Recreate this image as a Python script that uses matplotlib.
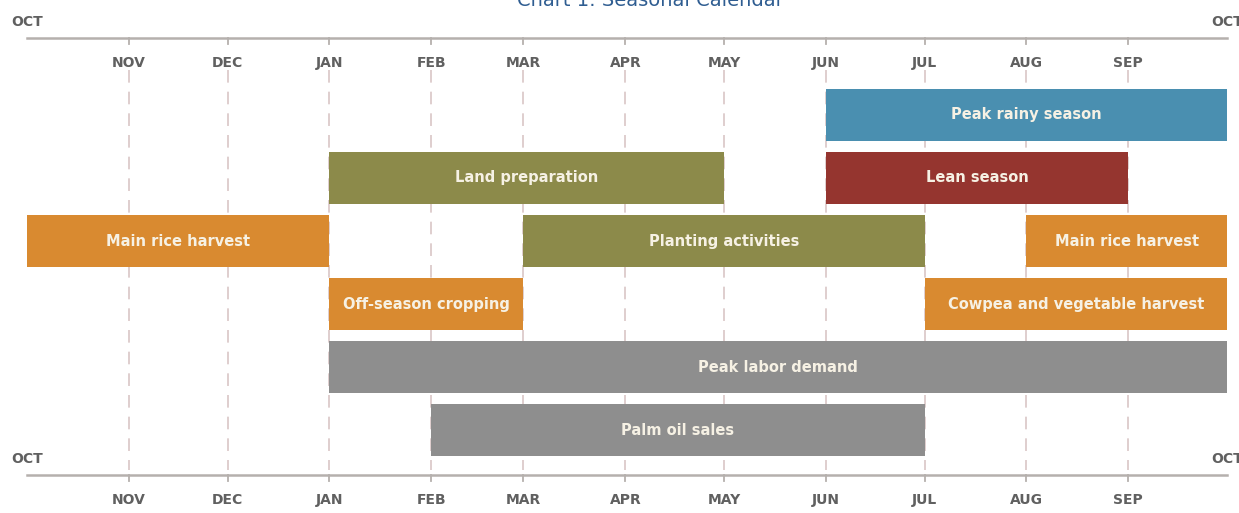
import numpy as np
import matplotlib.pyplot as plt

# month axis from OCT to OCT, spaced by the number of days in each month
months = ['OCT', 'NOV', 'DEC', 'JAN', 'FEB', 'MAR', 'APR', 'MAY',
          'JUN', 'JUL', 'AUG', 'SEP', 'OCT']
month_days = [31, 30, 31, 31, 28, 31, 30, 31, 30, 31, 31, 30]

# activities: label, row, start month index, end month index
labels = ['Peak rainy season', 'Land preparation', 'Lean season',
          'Main rice harvest', 'Planting activities', 'Main rice harvest',
          'Off-season cropping', 'Cowpea and vegetable harvest',
          'Peak labor demand', 'Palm oil sales']
rows = [0, 1, 1, 2, 2, 2, 3, 3, 4, 5]
starts = [8, 3, 8, 0, 5, 10, 3, 9, 3, 4]
ends = [12, 7, 11, 3, 9, 12, 5, 12, 12, 9]
kinds = ['rain', 'land', 'lean', 'rice', 'land', 'rice', 'rice', 'rice',
         'labor', 'labor']

colors = {'rain': '#4a8fb0', 'land': '#8c8a4a', 'lean': '#95352f',
          'rice': '#d98a30', 'labor': '#8e8e8e'}

pos = np.concatenate([[0], np.cumsum(month_days)])  # day of each month start

fig = plt.figure(figsize=(12.39, 5.13), dpi=100)
ax = fig.add_axes([0, 0, 1, 1])
scale = 365 / 1200
ax.set_xlim(-27 * scale, 365 + 12 * scale)
ax.set_ylim(6.317, -1.825)
ax.axis('off')

# dashed month guides
for m in range(1, 12):
    ax.plot([pos[m], pos[m]], [-0.714, 5.635], color='#dccaca', lw=1.3,
            dashes=(7, 5), zorder=1)

# bars
for lab, r, s, e, k in zip(labels, rows, starts, ends, kinds):
    ax.barh(r, pos[e] - pos[s], left=pos[s], height=0.825, color=colors[k],
            zorder=2)
    ax.text((pos[s] + pos[e]) / 2, r, lab, ha='center', va='center',
            fontsize=10.5, fontweight='bold', color='#f6f1e4', zorder=3)

# top and bottom month axes
for line_y, lab_y, oct_y in [(-1.222, -0.825, -1.476), (5.714, 6.111, 5.46)]:
    ax.plot([0, 365], [line_y, line_y], color='#b5b0ad', lw=1.8, zorder=2)
    for m in range(1, 12):
        ax.plot([pos[m], pos[m]], [line_y, line_y + 0.1], color='#b5b0ad',
                lw=1.3)
        ax.text(pos[m], lab_y, months[m], ha='center', va='center',
                fontsize=10, fontweight='bold', color='#606060')
    ax.text(pos[0], oct_y, months[0], ha='center', va='center', fontsize=10,
            fontweight='bold', color='#606060')
    ax.text(pos[12], oct_y, months[12], ha='center', va='center', fontsize=10,
            fontweight='bold', color='#606060')

fig.text(0.525, 1.0, 'Chart 1: Seasonal Calendar', ha='center', va='center',
         fontsize=14, color='#2f5d91')

fig.savefig('out.png', dpi=100)
